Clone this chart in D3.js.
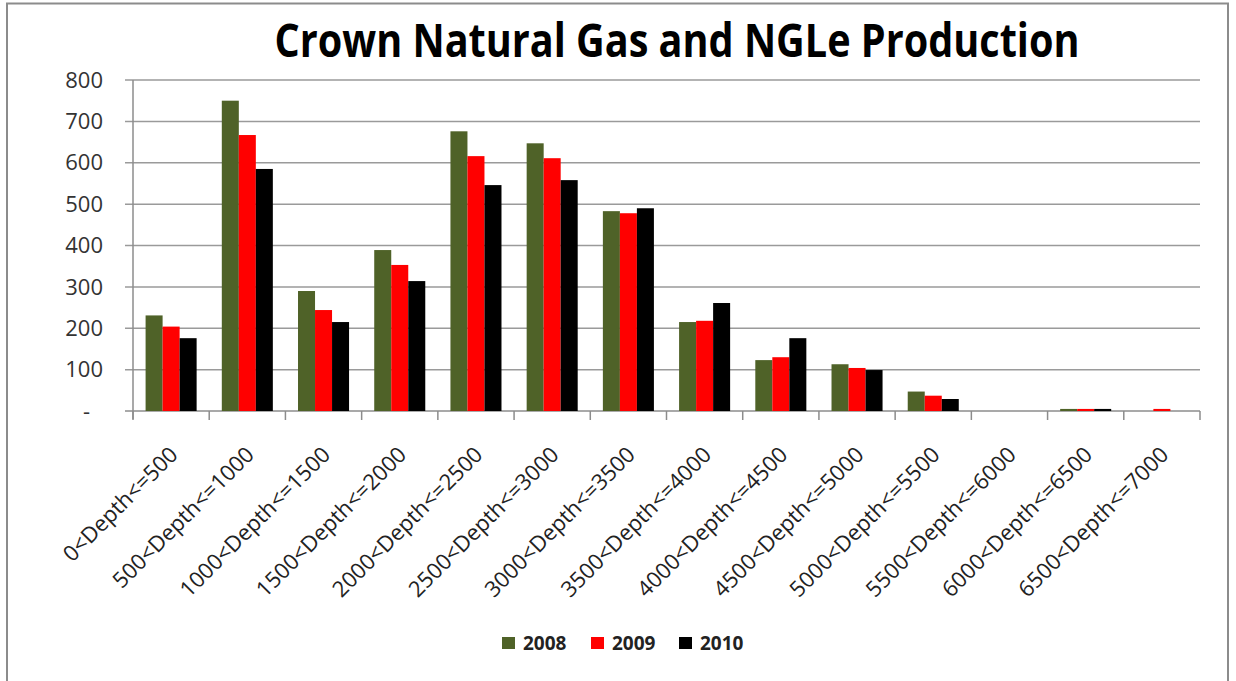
<!DOCTYPE html>
<html>
<head>
<meta charset="utf-8">
<script src="https://cdn.jsdelivr.net/npm/d3@7"></script>
<style>
  body { margin: 0; background: #fff; }
  svg text { font-family: "Open Sans", "DejaVu Sans", sans-serif; }
</style>
</head>
<body>
<svg id="chart" width="1236" height="681"></svg>
<script>
const categories = ["0<Depth<=500", "500<Depth<=1000", "1000<Depth<=1500", "1500<Depth<=2000",
    "2000<Depth<=2500", "2500<Depth<=3000", "3000<Depth<=3500", "3500<Depth<=4000",
    "4000<Depth<=4500", "4500<Depth<=5000", "5000<Depth<=5500", "5500<Depth<=6000",
    "6000<Depth<=6500", "6500<Depth<=7000"];
const years = ["2008", "2009", "2010"];
const values2008 = [231, 750, 290, 389, 676, 647, 483, 215, 123, 113, 47, 0, 5, 0];
const values2009 = [204, 667, 244, 353, 616, 611, 478, 218, 130, 104, 37, 0, 5, 5];
const values2010 = [176, 585, 215, 314, 546, 558, 490, 261, 176, 99, 29, 0, 5, 0];
const yTicks = [0, 100, 200, 300, 400, 500, 600, 700, 800];
const colors = ["#4f6228", "#ff0000", "#000000"];

const series = [values2008, values2009, values2010];
const svg = d3.select("#chart");

// marco exterior
svg.append("rect")
    .attr("x", 7).attr("y", 3.5)
    .attr("width", 1221).attr("height", 690)
    .attr("fill", "none").attr("stroke", "#8c8c8c").attr("stroke-width", 2);

const plotLeft = 133, plotRight = 1200, plotTop = 80, plotBottom = 411;

const x = d3.scaleBand().domain(categories).range([plotLeft, plotRight]).paddingInner(0).paddingOuter(0);
const xYear = d3.scaleBand().domain(years).range([0, x.bandwidth()]).paddingInner(0).paddingOuter(0.74);
const y = d3.scaleLinear().domain([0, 800]).range([plotBottom, plotTop]);

// lineas de cuadricula
svg.append("g")
    .selectAll("line")
    .data(yTicks)
    .enter()
    .append("line")
    .attr("x1", plotLeft - 8)
    .attr("x2", plotRight)
    .attr("y1", d => y(d))
    .attr("y2", d => y(d))
    .attr("stroke", d => d === 0 ? "#8c8c8c" : "#9a9a9a")
    .attr("stroke-width", 1.5);

// etiquetas eje Y
svg.append("g")
    .selectAll("text")
    .data(yTicks)
    .enter()
    .append("text")
    .attr("x", d => d === 0 ? 90 : 103)
    .attr("y", d => y(d))
    .attr("dy", "0.35em")
    .attr("text-anchor", "end")
    .attr("font-size", 22)
    .attr("fill", "#333")
    .text(d => d === 0 ? "-" : d);

// barras
const groups = svg.append("g")
    .selectAll("g")
    .data(categories)
    .enter()
    .append("g")
    .attr("transform", d => `translate(${x(d)},0)`);

groups.selectAll("rect")
    .data((d, i) => series.map((s, j) => ({ year: years[j], value: s[i], color: colors[j] })))
    .enter()
    .append("rect")
    .attr("x", d => xYear(d.year))
    .attr("width", xYear.bandwidth())
    .attr("y", d => y(d.value))
    .attr("height", d => y(0) - y(d.value))
    .attr("fill", d => d.color);

// eje Y linea vertical
svg.append("line")
    .attr("x1", plotLeft).attr("x2", plotLeft)
    .attr("y1", plotTop).attr("y2", plotBottom + 8)
    .attr("stroke", "#8c8c8c").attr("stroke-width", 1.5);

// marcas eje X
svg.append("g")
    .selectAll("line")
    .data(d3.range(categories.length + 1))
    .enter()
    .append("line")
    .attr("x1", i => plotLeft + i * x.bandwidth())
    .attr("x2", i => plotLeft + i * x.bandwidth())
    .attr("y1", plotBottom)
    .attr("y2", plotBottom + 9)
    .attr("stroke", "#8c8c8c")
    .attr("stroke-width", 1.5);

// etiquetas eje X
svg.append("g")
    .selectAll("text")
    .data(categories)
    .enter()
    .append("text")
    .attr("transform", d => `translate(${x(d) + x.bandwidth() / 2 + 8},${plotBottom + 45}) rotate(-45)`)
    .attr("text-anchor", "end")
    .attr("font-size", 22)
    .attr("fill", "#222")
    .text(d => d);

// titulo
svg.append("text")
    .attr("x", 677)
    .attr("y", 57)
    .attr("text-anchor", "middle")
    .attr("font-size", 47)
    .attr("font-weight", "bold")
    .attr("fill", "#000")
    .attr("textLength", 805)
    .attr("lengthAdjust", "spacingAndGlyphs")
    .text("Crown Natural Gas and NGLe Production");

// leyenda
const legend = svg.append("g").attr("transform", "translate(502,643)");
const legendX = [0, 89, 177];
years.forEach((yr, i) => {
    const g = legend.append("g").attr("transform", `translate(${legendX[i]},0)`);
    g.append("rect").attr("x", 0).attr("y", -6).attr("width", 13).attr("height", 12).attr("fill", colors[i]);
    g.append("text")
        .attr("x", 21).attr("y", 0).attr("dy", "0.35em")
        .attr("font-size", 19).attr("font-weight", "bold").attr("fill", "#222")
        .text(yr);
});
</script>
</body>
</html>
